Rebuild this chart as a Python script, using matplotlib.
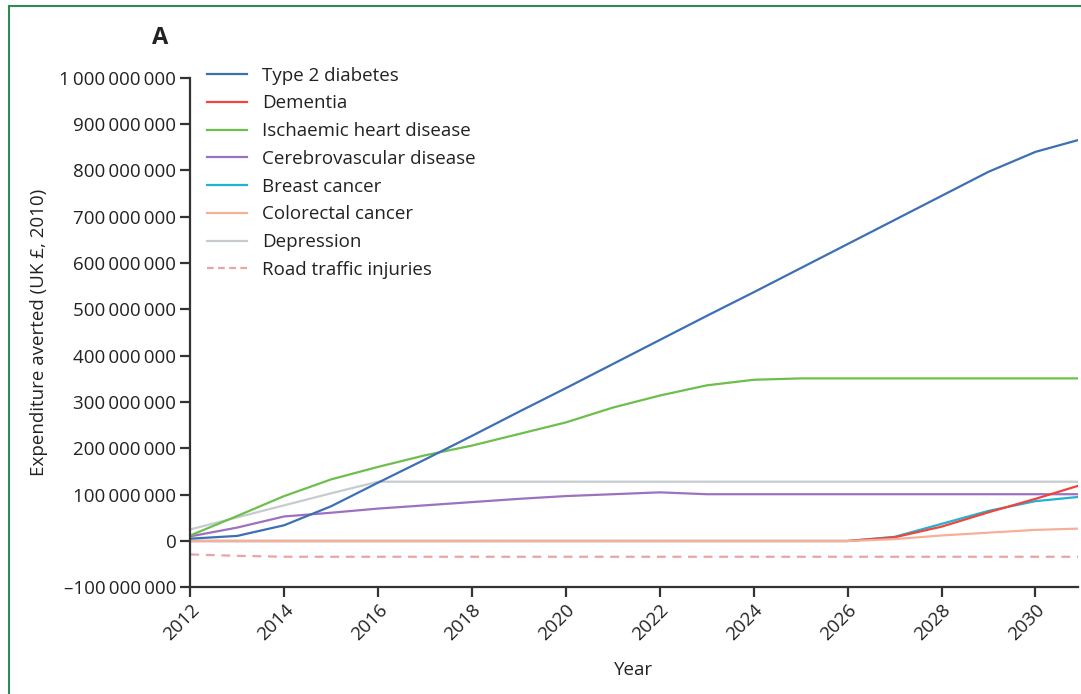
import numpy as np
import matplotlib.pyplot as plt
from matplotlib.ticker import FuncFormatter, MultipleLocator
from matplotlib.lines import Line2D

plt.rcParams['font.family'] = ['Open Sans', 'DejaVu Sans']

years = np.arange(2012, 2032)

# Ausgaben in Mio. Pfund
type2_diabetes = [5, 11, 34, 75, 126, 176, 227, 279, 330, 382, 434, 486, 537,
                  589, 641, 693, 745, 797, 840, 868]
dementia = [0, 0, 0, 0, 0, 0, 0, 0, 0, 0, 0, 0, 0, 0, 0, 8, 31, 62, 91, 122]
ischaemic_heart = [12, 54, 97, 133, 160, 185, 206, 231, 256, 288, 314, 336, 348,
                   351, 351, 351, 351, 351, 351, 351]
cerebrovascular = [10, 29, 53, 61, 70, 77, 84, 91, 97, 101, 105, 101, 101,
                   101, 101, 101, 101, 101, 101, 101]
breast_cancer = [0, 0, 0, 0, 0, 0, 0, 0, 0, 0, 0, 0, 0, 0, 0, 9, 37, 65, 86, 96]
colorectal_cancer = [0, 0, 0, 0, 0, 0, 0, 0, 0, 0, 0, 0, 0, 0, 0, 4, 12, 18, 24, 27]
depression = [25, 51, 77, 103, 128, 128, 128, 128, 128, 128, 128, 128, 128,
              128, 128, 128, 128, 128, 128, 128]
road_traffic = [-29, -32, -34, -34, -34, -34, -34, -34, -34, -34, -34, -34, -34,
                -34, -34, -34, -34, -34, -34, -34]

labels = ['Type 2 diabetes', 'Dementia', 'Ischaemic heart disease',
          'Cerebrovascular disease', 'Breast cancer', 'Colorectal cancer',
          'Depression', 'Road traffic injuries']
farben = ['#3d6fb4', '#f0443c', '#6dbf4b', '#9c72c0', '#22b2d2', '#f4b09a',
          '#c6cbcf', '#eaa4a4']

fig = plt.figure(figsize=(10.81, 6.94), dpi=100)
ax = fig.add_axes([0.176, 0.1537, 0.821, 0.7343])

# Zeichenreihenfolge: hinten zuerst
reihen = [
    (depression, 6, '-'),
    (road_traffic, 7, (0, (4, 3))),
    (cerebrovascular, 3, '-'),
    (breast_cancer, 4, '-'),
    (dementia, 1, '-'),
    (colorectal_cancer, 5, '-'),
    (ischaemic_heart, 2, '-'),
    (type2_diabetes, 0, '-'),
]
for werte, i, stil in reihen:
    ax.plot(years, np.array(werte) * 1e6, color=farben[i], lw=1.6,
            linestyle=stil, solid_capstyle='butt')

ax.set_xlim(2012, 2030.9)
ax.set_ylim(-1e8, 1e9)
ax.xaxis.set_major_locator(MultipleLocator(2))
ax.yaxis.set_major_locator(MultipleLocator(1e8))


def tausender(v, pos):
    s = f"{abs(int(round(v))):,}".replace(',', '\u2009')
    return ('\u2013' if v < 0 else '') + s


ax.yaxis.set_major_formatter(FuncFormatter(tausender))
ax.tick_params(axis='both', labelsize=13.5, length=7, width=1.6, color='#333333',
               labelcolor='#222222', direction='out', pad=3)
for lab in ax.get_xticklabels():
    lab.set_rotation(45)
    lab.set_ha('right')
    lab.set_rotation_mode('anchor')

for s in ['top', 'right']:
    ax.spines[s].set_visible(False)
for s in ['left', 'bottom']:
    ax.spines[s].set_linewidth(1.6)
    ax.spines[s].set_color('#333333')

ax.set_xlabel('Year', fontsize=13.5, color='#222222', labelpad=12)
ax.set_ylabel('Expenditure averted (UK \u00a3, 2010)', fontsize=13.5,
              color='#222222', labelpad=8)

handles = [Line2D([], [], color=farben[i], lw=1.6,
                  linestyle=(0, (3, 2)) if i == 7 else '-')
           for i in range(len(labels))]
ax.legend(handles, labels, loc='upper left', bbox_to_anchor=(0.0, 1.055),
          frameon=False, fontsize=13.5, handlelength=2.15, handletextpad=0.8,
          labelspacing=0.52, labelcolor='#222222')

fig.text(160 / 1081, 1 - 38 / 694, 'A', fontsize=17, fontweight='bold',
         ha='center', va='center', color='#222222')

# gruener Rahmen links und oben
fig.add_artist(Line2D([9 / 1081, 9 / 1081], [0, 1 - 6 / 694],
                      transform=fig.transFigure, color='#2e8b57', lw=1.5))
fig.add_artist(Line2D([9 / 1081, 1], [1 - 6 / 694, 1 - 6 / 694],
                      transform=fig.transFigure, color='#2e8b57', lw=1.5))

fig.savefig('out.png', dpi=100)
